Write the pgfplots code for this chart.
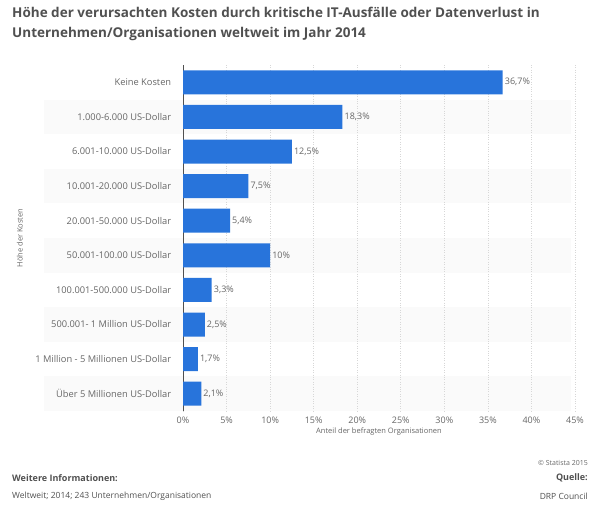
\documentclass[border=0pt]{standalone}
\usepackage{pgfplots}
\pgfplotsset{compat=1.18}
\usepackage{fontspec}
\setmainfont{Open Sans}
\definecolor{barblue}{RGB}{40,116,219}
\definecolor{txtgray}{RGB}{102,102,102}
\definecolor{ttlgray}{RGB}{80,80,80}
\definecolor{bandgray}{RGB}{250,250,250}
\definecolor{gridgray}{RGB}{215,215,215}
\begin{document}
\begin{tikzpicture}[x=1pt,y=1pt]
\path[use as bounding box] (0,0) rectangle (600,512);
% alternating row bands (behind everything)
\foreach \r in {1,3,5,7,9}{
  \fill[bandgray] (44,{447-(\r+1)*34.6}) rectangle (571,{447-\r*34.6});
}
% title
\node[anchor=north west,align=left,text=ttlgray,font=\bfseries\fontsize{13.5}{20}\selectfont,inner sep=0pt]
  at (12,505) {Höhe der verursachten Kosten durch kritische IT-Ausfälle oder Datenverlust in\\Unternehmen/Organisationen weltweit im Jahr 2014};
\begin{axis}[
    at={(183pt,101pt)}, anchor=south west,
    width=392pt, height=346pt, scale only axis,
    xbar, bar width=24pt,
    xmin=0, xmax=45,
    ymin=-0.5, ymax=9.5, y dir=reverse,
    xtick={0,5,...,45},
    xticklabel={\pgfmathprintnumber{\tick}\%},
    ytick={0,...,9},
    yticklabels={Keine Kosten,1.000-6.000 US-Dollar,6.001-10.000 US-Dollar,10.001-20.000 US-Dollar,20.001-50.000 US-Dollar,50.001-100.00 US-Dollar,100.001-500.000 US-Dollar,500.001- 1 Million US-Dollar,1 Million - 5 Millionen US-Dollar,Über 5 Millionen US-Dollar},
    /pgf/number format/assume math mode=true,
    tick style={draw=none},
    axis x line*=bottom, axis y line*=left,
    x axis line style={draw=none},
    y axis line style={draw=ttlgray, line width=0.8pt},
    xmajorgrids, grid style={gridgray, dotted, line width=0.6pt},
    ticklabel style={text=txtgray, font=\fontsize{9}{10}\selectfont},
    yticklabel style={xshift=-4pt, font=\fontsize{9.3}{10}\selectfont},
    xticklabel style={yshift=-2pt},
    xlabel={Anteil der befragten Organisationen},
    xlabel style={text=txtgray, font=\fontsize{7.5}{9}\selectfont, yshift=2pt},
    ylabel={Höhe der Kosten},
    ylabel style={text=txtgray, font=\fontsize{7.5}{9}\selectfont, at={(axis description cs:-0.416,0.5)}, anchor=center},
    nodes near coords={\pgfmathprintnumber[use comma]{\pgfplotspointmeta}\%},
    nodes near coords style={text=txtgray, font=\fontsize{9}{10}\selectfont, inner sep=2pt},
    clip=false,
]
\addplot[fill=barblue, draw=none] coordinates {
  (36.7,0) (18.3,1) (12.5,2) (7.5,3) (5.4,4) (10,5) (3.3,6) (2.5,7) (1.7,8) (2.1,9)
};
\end{axis}
% footer
\node[anchor=east,text=txtgray,font=\fontsize{7}{9}\selectfont,inner sep=0pt] at (588,49) {© Statista 2015};
\node[anchor=west,text=ttlgray,font=\bfseries\fontsize{9}{11}\selectfont,inner sep=0pt] at (12,34) {Weitere Informationen:};
\node[anchor=east,text=ttlgray,font=\bfseries\fontsize{9}{11}\selectfont,inner sep=0pt] at (588,34) {Quelle:};
\node[anchor=west,text=ttlgray,font=\fontsize{8.5}{10}\selectfont,inner sep=0pt] at (12,16) {Weltweit; 2014; 243 Unternehmen/Organisationen};
\node[anchor=east,text=ttlgray,font=\fontsize{8.5}{10}\selectfont,inner sep=0pt] at (588,16) {DRP Council};
\end{tikzpicture}
\end{document}
